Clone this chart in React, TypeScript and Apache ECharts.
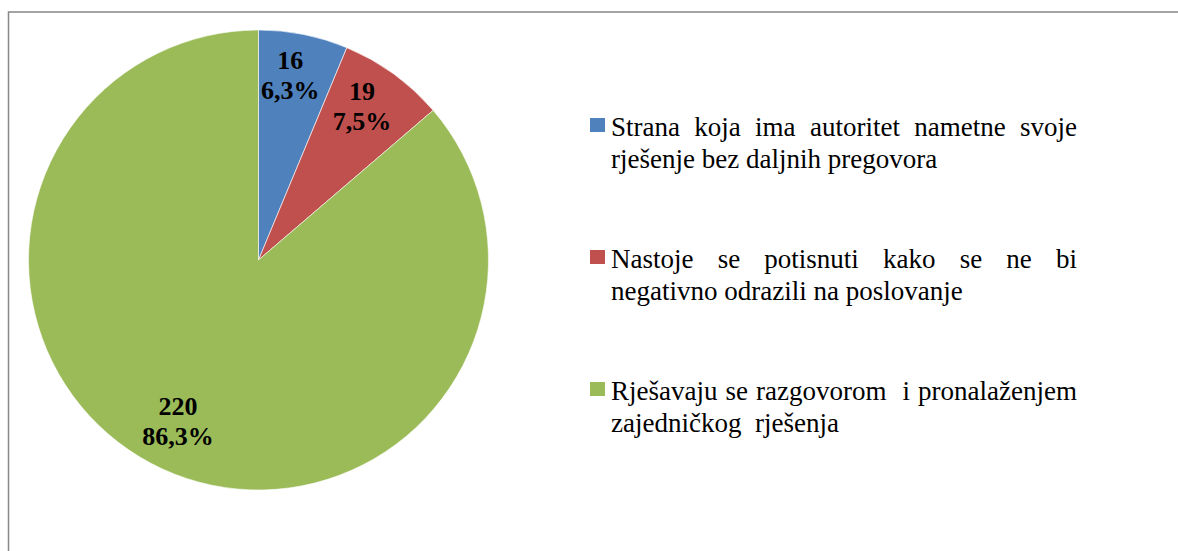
import React, { useEffect, useRef } from "react";
import * as echarts from "echarts";

const categories = [
  "Strana koja ima autoritet nametne svoje\nrješenje bez daljnih pregovora",
  "Nastoje se potisnuti kako se ne bi\nnegativno odrazili na poslovanje",
  "Rješavaju se razgovorom  i pronalaženjem\nzajedničkog  rješenja",
];
const values = [16, 19, 220];
const colors = ["#4F81BD", "#C0504D", "#9BBB59"];

const LEGEND_FONT = 27;
const LEGEND_FAMILY = "Liberation Serif";

function buildLegend(): any[] {
  const canvas = document.createElement("canvas");
  const ctx = canvas.getContext("2d")!;
  ctx.font = `${LEGEND_FONT}px "${LEGEND_FAMILY}"`;
  const w = (s: string) => ctx.measureText(s).width;
  const spaceW = w(" ");
  const x0 = 611;
  const x1 = 1077;
  const lineH = 32;
  const itemGap = 132;
  const firstBaseline = 136;
  const els: any[] = [];
  categories.forEach((cat, i) => {
    const base = firstBaseline + i * itemGap;
    els.push({
      type: "rect",
      silent: true,
      shape: { x: 590, y: base - 18, width: 15, height: 14 },
      style: { fill: colors[i] },
    });
    const lines = cat.split("\n");
    lines.forEach((line, li) => {
      const y = base + li * lineH - 9;
      const tokens = line.split(" ");
      const nSpaces = tokens.length - 1;
      const wordsW = tokens.reduce((a, t) => a + w(t), 0);
      const isLast = li === lines.length - 1;
      const gap = isLast || nSpaces === 0 ? spaceW : (x1 - x0 - wordsW) / nSpaces;
      let x = x0;
      tokens.forEach((t) => {
        if (t.length) {
          els.push({
            type: "text",
            silent: true,
            x,
            y,
            style: {
              text: t,
              fill: "#000",
              fontSize: LEGEND_FONT,
              fontFamily: LEGEND_FAMILY,
              verticalAlign: "middle",
              align: "left",
            },
          });
        }
        x += w(t) + gap;
      });
    });
  });
  return els;
}

export default function App() {
  const ref = useRef<HTMLDivElement>(null);
  useEffect(() => {
    if (!ref.current) return;
    const chart = echarts.init(ref.current, undefined, { renderer: "svg" });
    const total = values.reduce((a, b) => a + b, 0);
    const data = categories.map((name, i) => ({
      name,
      value: values[i],
      itemStyle: { color: colors[i] },
    }));
    chart.setOption({
      animation: false,
      backgroundColor: "#fff",
      series: [
        {
          type: "pie",
          center: [258.5, 260],
          radius: [0, 230],
          startAngle: 90,
          clockwise: true,
          silent: true,
          label: { show: false },
          labelLine: { show: false },
          itemStyle: { borderColor: "#fff", borderWidth: 0.6 },
          data,
        },
        {
          type: "pie",
          center: [258.5, 260],
          radius: [130, 230],
          startAngle: 90,
          clockwise: true,
          silent: true,
          z: 5,
          itemStyle: { color: "rgba(0,0,0,0)" },
          labelLine: { show: false },
          labelLayout: { dx: -4, dy: -5 },
          label: {
            show: true,
            position: "inside",
            color: "#000",
            fontSize: 26,
            fontWeight: "bold",
            fontFamily: "Liberation Serif",
            lineHeight: 30,
            formatter: (p: any) =>
              `${p.value}\n${((p.value / total) * 100).toFixed(1).replace(".", ",")}%`,
          },
          data: categories.map((name, i) => ({ name, value: values[i] })),
        },
      ],
      graphic: [
        {
          type: "rect",
          silent: true,
          shape: { x: 8.5, y: 12, width: 1400, height: 800 },
          style: { fill: "none", stroke: "#878787", lineWidth: 1.5 },
        },
        ...buildLegend(),
      ],
    });
    return () => chart.dispose();
  }, []);
  return (
    <div
      ref={ref}
      style={{ position: "fixed", left: 0, top: 0, width: 1178, height: 551 }}
    />
  );
}
